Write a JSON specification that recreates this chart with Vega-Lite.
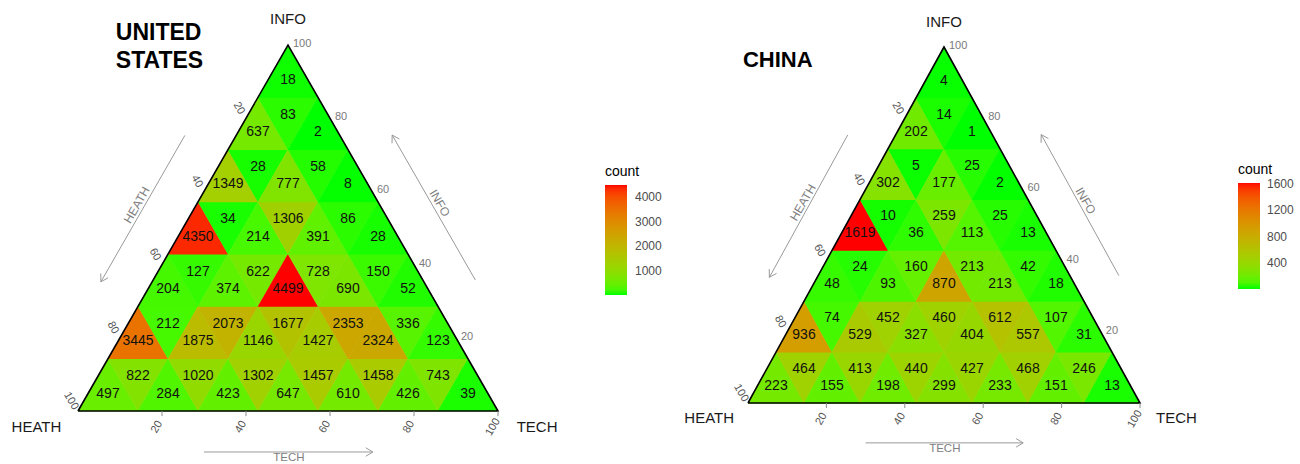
{
  "$schema": "https://vega.github.io/schema/vega-lite/v6.json",
  "padding": 0,
  "spacing": 0,
  "bounds": "flush",
  "background": "white",
  "config": {"view": {"stroke": null}, "font": "Liberation Sans"},
  "resolve": {"scale": {"fill": "independent", "shape": "independent", "x": "independent", "y": "independent"}, "legend": {"fill": "independent"}},
  "datasets": {
    "us_cells": [
      {"x": 7.143, "y": 7.143, "dir": "up", "count": 497},
      {"x": 14.286, "y": 7.143, "dir": "down", "count": 822},
      {"x": 21.429, "y": 7.143, "dir": "up", "count": 284},
      {"x": 28.571, "y": 7.143, "dir": "down", "count": 1020},
      {"x": 35.714, "y": 7.143, "dir": "up", "count": 423},
      {"x": 42.857, "y": 7.143, "dir": "down", "count": 1302},
      {"x": 50, "y": 7.143, "dir": "up", "count": 647},
      {"x": 57.143, "y": 7.143, "dir": "down", "count": 1457},
      {"x": 64.286, "y": 7.143, "dir": "up", "count": 610},
      {"x": 71.429, "y": 7.143, "dir": "down", "count": 1458},
      {"x": 78.571, "y": 7.143, "dir": "up", "count": 426},
      {"x": 85.714, "y": 7.143, "dir": "down", "count": 743},
      {"x": 92.857, "y": 7.143, "dir": "up", "count": 39},
      {"x": 14.286, "y": 21.429, "dir": "up", "count": 3445},
      {"x": 21.429, "y": 21.429, "dir": "down", "count": 212},
      {"x": 28.571, "y": 21.429, "dir": "up", "count": 1875},
      {"x": 35.714, "y": 21.429, "dir": "down", "count": 2073},
      {"x": 42.857, "y": 21.429, "dir": "up", "count": 1146},
      {"x": 50, "y": 21.429, "dir": "down", "count": 1677},
      {"x": 57.143, "y": 21.429, "dir": "up", "count": 1427},
      {"x": 64.286, "y": 21.429, "dir": "down", "count": 2353},
      {"x": 71.429, "y": 21.429, "dir": "up", "count": 2324},
      {"x": 78.571, "y": 21.429, "dir": "down", "count": 336},
      {"x": 85.714, "y": 21.429, "dir": "up", "count": 123},
      {"x": 21.429, "y": 35.714, "dir": "up", "count": 204},
      {"x": 28.571, "y": 35.714, "dir": "down", "count": 127},
      {"x": 35.714, "y": 35.714, "dir": "up", "count": 374},
      {"x": 42.857, "y": 35.714, "dir": "down", "count": 622},
      {"x": 50, "y": 35.714, "dir": "up", "count": 4499},
      {"x": 57.143, "y": 35.714, "dir": "down", "count": 728},
      {"x": 64.286, "y": 35.714, "dir": "up", "count": 690},
      {"x": 71.429, "y": 35.714, "dir": "down", "count": 150},
      {"x": 78.571, "y": 35.714, "dir": "up", "count": 52},
      {"x": 28.571, "y": 50, "dir": "up", "count": 4350},
      {"x": 35.714, "y": 50, "dir": "down", "count": 34},
      {"x": 42.857, "y": 50, "dir": "up", "count": 214},
      {"x": 50, "y": 50, "dir": "down", "count": 1306},
      {"x": 57.143, "y": 50, "dir": "up", "count": 391},
      {"x": 64.286, "y": 50, "dir": "down", "count": 86},
      {"x": 71.429, "y": 50, "dir": "up", "count": 28},
      {"x": 35.714, "y": 64.286, "dir": "up", "count": 1349},
      {"x": 42.857, "y": 64.286, "dir": "down", "count": 28},
      {"x": 50, "y": 64.286, "dir": "up", "count": 777},
      {"x": 57.143, "y": 64.286, "dir": "down", "count": 58},
      {"x": 64.286, "y": 64.286, "dir": "up", "count": 8},
      {"x": 42.857, "y": 78.571, "dir": "up", "count": 637},
      {"x": 50, "y": 78.571, "dir": "down", "count": 83},
      {"x": 57.143, "y": 78.571, "dir": "up", "count": 2},
      {"x": 50, "y": 92.857, "dir": "up", "count": 18}
    ],
    "cn_cells": [
      {"x": 7.143, "y": 7.143, "dir": "up", "count": 223},
      {"x": 14.286, "y": 7.143, "dir": "down", "count": 464},
      {"x": 21.429, "y": 7.143, "dir": "up", "count": 155},
      {"x": 28.571, "y": 7.143, "dir": "down", "count": 413},
      {"x": 35.714, "y": 7.143, "dir": "up", "count": 198},
      {"x": 42.857, "y": 7.143, "dir": "down", "count": 440},
      {"x": 50, "y": 7.143, "dir": "up", "count": 299},
      {"x": 57.143, "y": 7.143, "dir": "down", "count": 427},
      {"x": 64.286, "y": 7.143, "dir": "up", "count": 233},
      {"x": 71.429, "y": 7.143, "dir": "down", "count": 468},
      {"x": 78.571, "y": 7.143, "dir": "up", "count": 151},
      {"x": 85.714, "y": 7.143, "dir": "down", "count": 246},
      {"x": 92.857, "y": 7.143, "dir": "up", "count": 13},
      {"x": 14.286, "y": 21.429, "dir": "up", "count": 936},
      {"x": 21.429, "y": 21.429, "dir": "down", "count": 74},
      {"x": 28.571, "y": 21.429, "dir": "up", "count": 529},
      {"x": 35.714, "y": 21.429, "dir": "down", "count": 452},
      {"x": 42.857, "y": 21.429, "dir": "up", "count": 327},
      {"x": 50, "y": 21.429, "dir": "down", "count": 460},
      {"x": 57.143, "y": 21.429, "dir": "up", "count": 404},
      {"x": 64.286, "y": 21.429, "dir": "down", "count": 612},
      {"x": 71.429, "y": 21.429, "dir": "up", "count": 557},
      {"x": 78.571, "y": 21.429, "dir": "down", "count": 107},
      {"x": 85.714, "y": 21.429, "dir": "up", "count": 31},
      {"x": 21.429, "y": 35.714, "dir": "up", "count": 48},
      {"x": 28.571, "y": 35.714, "dir": "down", "count": 24},
      {"x": 35.714, "y": 35.714, "dir": "up", "count": 93},
      {"x": 42.857, "y": 35.714, "dir": "down", "count": 160},
      {"x": 50, "y": 35.714, "dir": "up", "count": 870},
      {"x": 57.143, "y": 35.714, "dir": "down", "count": 213},
      {"x": 64.286, "y": 35.714, "dir": "up", "count": 213},
      {"x": 71.429, "y": 35.714, "dir": "down", "count": 42},
      {"x": 78.571, "y": 35.714, "dir": "up", "count": 18},
      {"x": 28.571, "y": 50, "dir": "up", "count": 1619},
      {"x": 35.714, "y": 50, "dir": "down", "count": 10},
      {"x": 42.857, "y": 50, "dir": "up", "count": 36},
      {"x": 50, "y": 50, "dir": "down", "count": 259},
      {"x": 57.143, "y": 50, "dir": "up", "count": 113},
      {"x": 64.286, "y": 50, "dir": "down", "count": 25},
      {"x": 71.429, "y": 50, "dir": "up", "count": 13},
      {"x": 35.714, "y": 64.286, "dir": "up", "count": 302},
      {"x": 42.857, "y": 64.286, "dir": "down", "count": 5},
      {"x": 50, "y": 64.286, "dir": "up", "count": 177},
      {"x": 57.143, "y": 64.286, "dir": "down", "count": 25},
      {"x": 64.286, "y": 64.286, "dir": "up", "count": 2},
      {"x": 42.857, "y": 78.571, "dir": "up", "count": 202},
      {"x": 50, "y": 78.571, "dir": "down", "count": 14},
      {"x": 57.143, "y": 78.571, "dir": "up", "count": 1},
      {"x": 50, "y": 92.857, "dir": "up", "count": 4}
    ],
    "outline": [
      {"x": 0, "y": 0, "o": 0},
      {"x": 100, "y": 0, "o": 1},
      {"x": 50, "y": 100, "o": 2},
      {"x": 0, "y": 0, "o": 3}
    ],
    "ticks": [
      {"x": 20, "y": 0, "y2": -1.4},
      {"x": 40, "y": 0, "y2": -1.4},
      {"x": 60, "y": 0, "y2": -1.4},
      {"x": 80, "y": 0, "y2": -1.4},
      {"x": 100, "y": 0, "y2": -1.4}
    ],
    "ticklabels": [
      {"side": "L", "label": "20", "x": 40, "y": 80},
      {"side": "L", "label": "40", "x": 30, "y": 60},
      {"side": "L", "label": "60", "x": 20, "y": 40},
      {"side": "L", "label": "80", "x": 10, "y": 20},
      {"side": "L", "label": "100", "x": 0, "y": 0},
      {"side": "B", "label": "20", "x": 20, "y": 0},
      {"side": "B", "label": "40", "x": 40, "y": 0},
      {"side": "B", "label": "60", "x": 60, "y": 0},
      {"side": "B", "label": "80", "x": 80, "y": 0},
      {"side": "B", "label": "100", "x": 100, "y": 0},
      {"side": "R", "label": "20", "x": 90, "y": 20},
      {"side": "R", "label": "40", "x": 80, "y": 40},
      {"side": "R", "label": "60", "x": 70, "y": 60},
      {"side": "R", "label": "80", "x": 60, "y": 80},
      {"side": "R", "label": "100", "x": 50, "y": 100}
    ],
    "arrows": [
      {"side": "L", "x": 5.45, "y": 35.3, "x2": 25.45, "y2": 75.3},
      {"side": "R", "x": 74.8, "y": 75.4, "x2": 94.6, "y2": 35.8},
      {"side": "B", "x": 70.2, "y": -11.2, "x2": 30, "y2": -11.2}
    ],
    "arrowlabels": [
      {"side": "L", "label": "HEATH", "x": 14, "y": 56.3},
      {"side": "R", "label": "INFO", "x": 86.1, "y": 56.8},
      {"side": "B", "label": "TECH", "x": 50.2, "y": -12.9}
    ],
    "corners": [
      {"label": "INFO", "x": 50, "y": 107},
      {"label": "HEATH", "x": -9.9, "y": -4.3},
      {"label": "TECH", "x": 109.3, "y": -4.3}
    ],
    "us_title": [{"label": "UNITED\nSTATES", "x": 9.0, "y": 101.4}],
    "cn_title": [{"label": "CHINA", "x": -1.3, "y": 94.4}]
  },
  "hconcat": [
    {
      "width": 650,
      "height": 464,
      "encoding": {
        "x": {"field": "x", "type": "quantitative", "scale": {"domain": [-18.571, 136.19], "nice": false, "zero": false}, "axis": null},
        "y": {"field": "y", "type": "quantitative", "scale": {"domain": [-14.481, 112.295], "nice": false, "zero": false}, "axis": null}
      },
      "layer": [
        {
          "data": {"name": "us_cells"},
          "mark": {"type": "point", "filled": true, "size": 3700, "opacity": 1, "strokeWidth": 0},
          "encoding": {
            "fill": {"field": "count", "type": "quantitative", "scale": {"domain": [2, 4499], "range": ["#00ff00", "#ff0000"], "interpolate": "lab"},
              "legend": {"type": "gradient", "title": "count", "orient": "none", "legendX": 605, "legendY": 165, "direction": "vertical", "gradientLength": 110, "gradientThickness": 22, "values": [1000, 2000, 3000, 4000], "format": "d", "labelFontSize": 12, "labelColor": "#4d4d4d", "labelOffset": 8, "titleFontSize": 14, "titleFontWeight": "normal", "titleColor": "#000000", "titlePadding": 6, "gradientStrokeWidth": 0, "padding": 0}},
            "shape": {"field": "dir", "type": "nominal", "scale": {"domain": ["up", "down"], "range": ["M0,-0.8714L1,0.8714L-1,0.8714Z", "M-1,-0.8714L1,-0.8714L0,0.8714Z"]}, "legend": null}
          }
        },
        {
          "data": {"name": "outline"},
          "mark": {"type": "line", "color": "#000000", "strokeWidth": 1.6},
          "encoding": {"order": {"field": "o", "type": "quantitative"}}
        },
        {
          "data": {"name": "us_cells"},
          "transform": [{"filter": "datum.dir == 'up'"}],
          "mark": {"type": "text", "fontSize": 14, "color": "#111111", "dy": 8.7, "baseline": "middle"},
          "encoding": {"text": {"field": "count", "type": "quantitative", "format": "d"}}
        },
        {
          "data": {"name": "us_cells"},
          "transform": [{"filter": "datum.dir == 'down'"}],
          "mark": {"type": "text", "fontSize": 14, "color": "#111111", "dy": -8.7, "baseline": "middle"},
          "encoding": {"text": {"field": "count", "type": "quantitative", "format": "d"}}
        },
        {
          "data": {"name": "ticks"},
          "mark": {"type": "rule", "color": "#8a8a8a", "strokeWidth": 1},
          "encoding": {"y2": {"field": "y2"}}
        },
        {
          "data": {"name": "ticklabels"},
          "transform": [{"filter": "datum.side == 'L'"}],
          "mark": {"type": "text", "fontSize": 11, "color": "#555555", "angle": 60, "align": "center", "baseline": "middle", "dx": -12.2, "dy": 1.1},
          "encoding": {"text": {"field": "label"}}
        },
        {
          "data": {"name": "ticklabels"},
          "transform": [{"filter": "datum.side == 'B'"}],
          "mark": {"type": "text", "fontSize": 11, "color": "#555555", "angle": 300, "align": "center", "baseline": "middle", "dx": -16.4, "dy": 3.7},
          "encoding": {"text": {"field": "label"}}
        },
        {
          "data": {"name": "ticklabels"},
          "transform": [{"filter": "datum.side == 'R'"}],
          "mark": {"type": "text", "fontSize": 11, "color": "#7a7a7a", "align": "left", "baseline": "middle", "dx": 5, "dy": -1},
          "encoding": {"text": {"field": "label"}}
        },
        {
          "data": {"name": "arrows"},
          "mark": {"type": "rule", "color": "#9a9a9a", "strokeWidth": 1},
          "encoding": {"x2": {"field": "x2"}, "y2": {"field": "y2"}}
        },
        {
          "data": {"name": "arrows"},
          "transform": [{"filter": "datum.side == 'L'"}],
          "mark": {"type": "point", "filled": false, "color": "#9a9a9a", "opacity": 1, "strokeWidth": 1, "size": 200, "shape": "M1.02,-0.566L0,0L-0.02,-1.166"},
          "encoding": {}
        },
        {
          "data": {"name": "arrows"},
          "transform": [{"filter": "datum.side == 'R'"}],
          "mark": {"type": "point", "filled": false, "color": "#9a9a9a", "opacity": 1, "strokeWidth": 1, "size": 200, "shape": "M-0.02,1.166L0,0L1.02,0.566"},
          "encoding": {}
        },
        {
          "data": {"name": "arrows"},
          "transform": [{"filter": "datum.side == 'B'"}],
          "mark": {"type": "point", "filled": false, "color": "#9a9a9a", "opacity": 1, "strokeWidth": 1, "size": 200, "shape": "M-1,-0.6L0,0L-1,0.6"},
          "encoding": {}
        },
        {
          "data": {"name": "arrowlabels"},
          "transform": [{"filter": "datum.side == 'L'"}],
          "mark": {"type": "text", "fontSize": 12, "color": "#7f7f7f", "angle": 300, "align": "center", "baseline": "middle"},
          "encoding": {"text": {"field": "label"}}
        },
        {
          "data": {"name": "arrowlabels"},
          "transform": [{"filter": "datum.side == 'R'"}],
          "mark": {"type": "text", "fontSize": 12, "color": "#7f7f7f", "angle": 60, "align": "center", "baseline": "middle"},
          "encoding": {"text": {"field": "label"}}
        },
        {
          "data": {"name": "arrowlabels"},
          "transform": [{"filter": "datum.side == 'B'"}],
          "mark": {"type": "text", "fontSize": 11.5, "color": "#7f7f7f", "align": "center", "baseline": "middle"},
          "encoding": {"text": {"field": "label"}}
        },
        {
          "data": {"name": "corners"},
          "mark": {"type": "text", "fontSize": 15, "color": "#1a1a1a", "align": "center", "baseline": "middle"},
          "encoding": {"text": {"field": "label"}}
        },
        {
          "data": {"name": "us_title"},
          "mark": {"type": "text", "fontSize": 23, "fontWeight": "bold", "color": "#000000", "align": "left", "baseline": "alphabetic", "lineBreak": "\n", "lineHeight": 28},
          "encoding": {"text": {"field": "label"}}
        }
      ]
    },
    {
      "width": 650,
      "height": 464,
      "encoding": {
        "x": {"field": "x", "type": "quantitative", "scale": {"domain": [-25, 140.816], "nice": false, "zero": false}, "axis": null},
        "y": {"field": "y", "type": "quantitative", "scale": {"domain": [-17.135, 113.202], "nice": false, "zero": false}, "axis": null}
      },
      "layer": [
        {
          "data": {"name": "cn_cells"},
          "mark": {"type": "point", "filled": true, "size": 3240, "opacity": 1, "strokeWidth": 0},
          "encoding": {
            "fill": {"field": "count", "type": "quantitative", "scale": {"domain": [1, 1619], "range": ["#00ff00", "#ff0000"], "interpolate": "lab"},
              "legend": {"type": "gradient", "title": "count", "orient": "none", "legendX": 588, "legendY": 163, "direction": "vertical", "gradientLength": 106, "gradientThickness": 22, "values": [400, 800, 1200, 1600], "format": "d", "labelFontSize": 12, "labelColor": "#4d4d4d", "labelOffset": 7, "titleFontSize": 14, "titleFontWeight": "normal", "titleColor": "#000000", "titlePadding": 6, "gradientStrokeWidth": 0, "padding": 0}},
            "shape": {"field": "dir", "type": "nominal", "scale": {"domain": ["up", "down"], "range": ["M0,-0.908L1,0.908L-1,0.908Z", "M-1,-0.908L1,-0.908L0,0.908Z"]}, "legend": null}
          }
        },
        {
          "data": {"name": "outline"},
          "mark": {"type": "line", "color": "#000000", "strokeWidth": 1.6},
          "encoding": {"order": {"field": "o", "type": "quantitative"}}
        },
        {
          "data": {"name": "cn_cells"},
          "transform": [{"filter": "datum.dir == 'up'"}],
          "mark": {"type": "text", "fontSize": 14, "color": "#111111", "dy": 8.5, "baseline": "middle"},
          "encoding": {"text": {"field": "count", "type": "quantitative", "format": "d"}}
        },
        {
          "data": {"name": "cn_cells"},
          "transform": [{"filter": "datum.dir == 'down'"}],
          "mark": {"type": "text", "fontSize": 14, "color": "#111111", "dy": -8.5, "baseline": "middle"},
          "encoding": {"text": {"field": "count", "type": "quantitative", "format": "d"}}
        },
        {
          "data": {"name": "ticks"},
          "mark": {"type": "rule", "color": "#8a8a8a", "strokeWidth": 1},
          "encoding": {"y2": {"field": "y2"}}
        },
        {
          "data": {"name": "ticklabels"},
          "transform": [{"filter": "datum.side == 'L'"}],
          "mark": {"type": "text", "fontSize": 11, "color": "#555555", "angle": 60, "align": "center", "baseline": "middle", "dx": -12.2, "dy": 1.1},
          "encoding": {"text": {"field": "label"}}
        },
        {
          "data": {"name": "ticklabels"},
          "transform": [{"filter": "datum.side == 'B'"}],
          "mark": {"type": "text", "fontSize": 11, "color": "#555555", "angle": 300, "align": "center", "baseline": "middle", "dx": -16.4, "dy": 3.7},
          "encoding": {"text": {"field": "label"}}
        },
        {
          "data": {"name": "ticklabels"},
          "transform": [{"filter": "datum.side == 'R'"}],
          "mark": {"type": "text", "fontSize": 11, "color": "#7a7a7a", "align": "left", "baseline": "middle", "dx": 5, "dy": -1},
          "encoding": {"text": {"field": "label"}}
        },
        {
          "data": {"name": "arrows"},
          "mark": {"type": "rule", "color": "#9a9a9a", "strokeWidth": 1},
          "encoding": {"x2": {"field": "x2"}, "y2": {"field": "y2"}}
        },
        {
          "data": {"name": "arrows"},
          "transform": [{"filter": "datum.side == 'L'"}],
          "mark": {"type": "point", "filled": false, "color": "#9a9a9a", "opacity": 1, "strokeWidth": 1, "size": 200, "shape": "M1.02,-0.566L0,0L-0.02,-1.166"},
          "encoding": {}
        },
        {
          "data": {"name": "arrows"},
          "transform": [{"filter": "datum.side == 'R'"}],
          "mark": {"type": "point", "filled": false, "color": "#9a9a9a", "opacity": 1, "strokeWidth": 1, "size": 200, "shape": "M-0.02,1.166L0,0L1.02,0.566"},
          "encoding": {}
        },
        {
          "data": {"name": "arrows"},
          "transform": [{"filter": "datum.side == 'B'"}],
          "mark": {"type": "point", "filled": false, "color": "#9a9a9a", "opacity": 1, "strokeWidth": 1, "size": 200, "shape": "M-1,-0.6L0,0L-1,0.6"},
          "encoding": {}
        },
        {
          "data": {"name": "arrowlabels"},
          "transform": [{"filter": "datum.side == 'L'"}],
          "mark": {"type": "text", "fontSize": 12, "color": "#7f7f7f", "angle": 300, "align": "center", "baseline": "middle"},
          "encoding": {"text": {"field": "label"}}
        },
        {
          "data": {"name": "arrowlabels"},
          "transform": [{"filter": "datum.side == 'R'"}],
          "mark": {"type": "text", "fontSize": 12, "color": "#7f7f7f", "angle": 60, "align": "center", "baseline": "middle"},
          "encoding": {"text": {"field": "label"}}
        },
        {
          "data": {"name": "arrowlabels"},
          "transform": [{"filter": "datum.side == 'B'"}],
          "mark": {"type": "text", "fontSize": 11.5, "color": "#7f7f7f", "align": "center", "baseline": "middle"},
          "encoding": {"text": {"field": "label"}}
        },
        {
          "data": {"name": "corners"},
          "mark": {"type": "text", "fontSize": 15, "color": "#1a1a1a", "align": "center", "baseline": "middle"},
          "encoding": {"text": {"field": "label"}}
        },
        {
          "data": {"name": "cn_title"},
          "mark": {"type": "text", "fontSize": 22, "fontWeight": "bold", "color": "#000000", "align": "left", "baseline": "alphabetic"},
          "encoding": {"text": {"field": "label"}}
        }
      ]
    }
  ]
}
